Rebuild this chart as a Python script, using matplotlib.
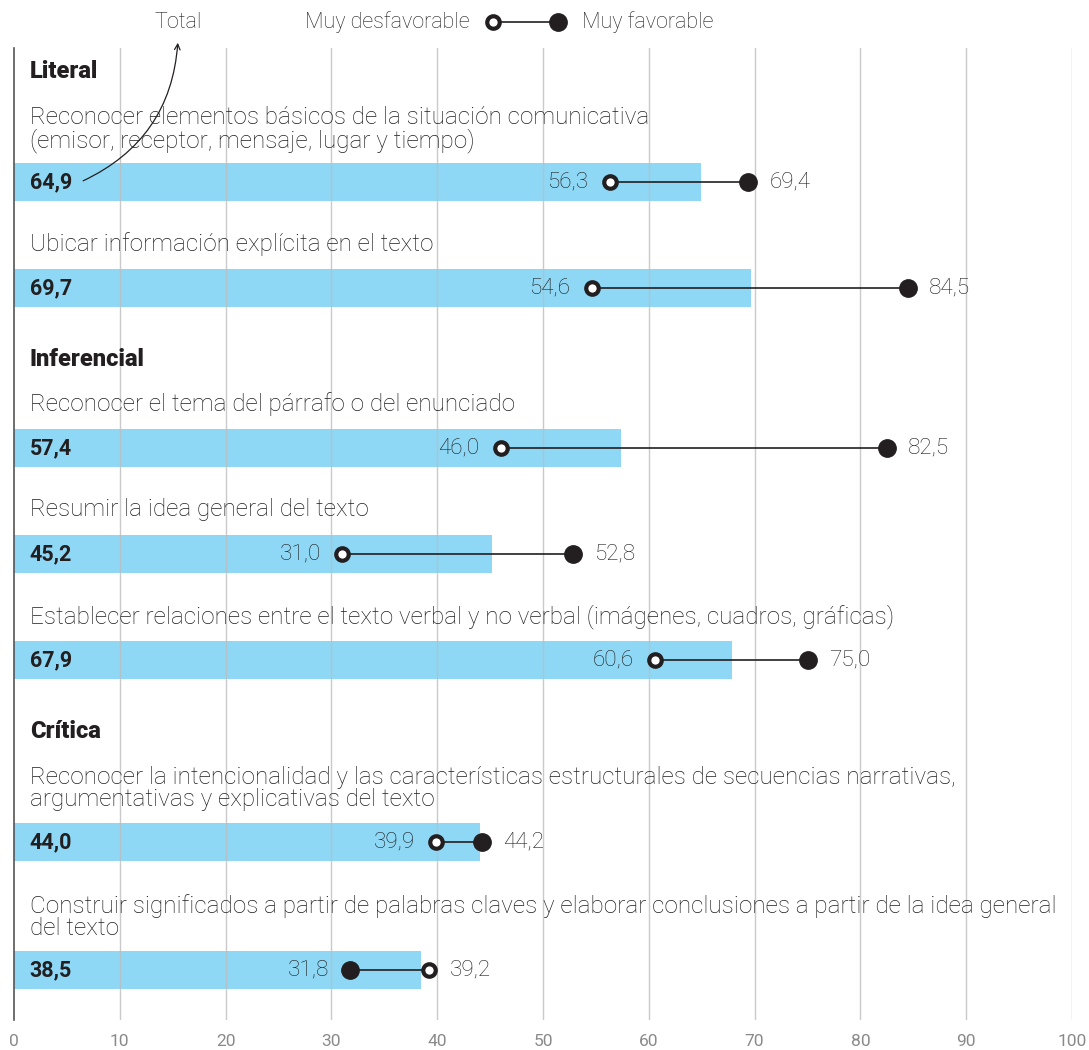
import numpy as np
from matplotlib import pyplot as plt

plt.rcParams['font.family'] = ['Roboto', 'DejaVu Sans']

groups = ["Literal", "Inferencial", "Crítica"]
group_of = [0, 0, 1, 1, 1, 2, 2]
labels = [
    "Reconocer elementos básicos de la situación comunicativa\n(emisor, receptor, mensaje, lugar y tiempo)",
    "Ubicar información explícita en el texto",
    "Reconocer el tema del párrafo o del enunciado",
    "Resumir la idea general del texto",
    "Establecer relaciones entre el texto verbal y no verbal (imágenes, cuadros, gráficas)",
    "Reconocer la intencionalidad y las características estructurales de secuencias narrativas,\nargumentativas y explicativas del texto",
    "Construir significados a partir de palabras claves y elaborar conclusiones a partir de la idea general\ndel texto",
]
total = [64.9, 69.7, 57.4, 45.2, 67.9, 44.0, 38.5]
desfav = [56.3, 54.6, 46.0, 31.0, 60.6, 39.9, 39.2]
fav = [69.4, 84.5, 82.5, 52.8, 75.0, 44.2, 31.8]
ticks = [0, 10, 20, 30, 40, 50, 60, 70, 80, 90, 100]

def fmt(v):
    return f"{v:.1f}".replace(".", ",")

bar_color = "#8ed8f6"
dark = "#231f20"
text_c = "#1e1e1e"

W, H = 1089, 1050
fig = plt.figure(figsize=(W/100, H/100), dpi=100)
top, bottom = 48, 1020
ax = fig.add_axes([14/W, 1 - bottom/H, (1072-14)/W, (bottom-top)/H])
ax.set_xlim(0, 100)
ax.set_ylim(bottom, top)  # y in pixel-like units, downward

# vertical layout computed with a cursor
y = 70
prev_group = None
bar_y = []
label_y = []
header_y = []
for i, lab in enumerate(labels):
    if group_of[i] != prev_group:
        if prev_group is not None:
            y += 70
        header_y.append(y)
        y += 46
        prev_group = group_of[i]
    else:
        y += 62
    label_y.append(y)
    nlines = lab.count("\n") + 1
    y += 44 if nlines == 1 else 66
    bar_y.append(y)

for g, hy in zip(groups, header_y):
    ax.text(1.5, hy + 2, g, fontsize=17, fontweight="heavy", color=dark, va="center", ha="left")

ax.barh(bar_y, total, height=38, color=bar_color, zorder=1)
for x in ticks[1:]:
    ax.axvline(x, color="#bdbdbd", lw=1, alpha=0.8, zorder=2)

for i in range(len(labels)):
    nlines = labels[i].count("\n") + 1
    off = 12 if nlines == 1 else 10
    ax.text(1.5, label_y[i] - off, labels[i], fontsize=17.5, fontweight="light", color=text_c,
            va="top", ha="left", linespacing=0.97)
    ax.text(1.5, bar_y[i], fmt(total[i]), fontsize=15.5, fontweight="bold", color=dark,
            va="center", ha="left", zorder=5)
    lo, hi = min(desfav[i], fav[i]), max(desfav[i], fav[i])
    ax.plot([desfav[i], fav[i]], [bar_y[i]] * 2, color=dark, lw=1.2, zorder=3)
    ax.plot(fav[i], bar_y[i], "o", ms=12.5, color=dark, zorder=4)
    ax.plot(desfav[i], bar_y[i], "o", ms=9, mfc="white", mec=dark, mew=3, zorder=4)
    ax.text(lo - 2.0, bar_y[i], fmt(lo), fontsize=16.2, fontweight="light", color=text_c,
            va="center", ha="right", zorder=5)
    ax.text(hi + 2.0, bar_y[i], fmt(hi), fontsize=16.2, fontweight="light", color=text_c,
            va="center", ha="left", zorder=5)

# legend at top
ax.text(15.5, 22, "Total", fontsize=15.5, fontweight="light", color=text_c, ha="center", va="center")
ax.annotate("", xy=(15.5, 40), xytext=(6.3, bar_y[0]),
            arrowprops=dict(arrowstyle="->", color=dark, lw=0.9,
                            connectionstyle="arc3,rad=0.3"), annotation_clip=False)
ax.text(43.1, 22, "Muy desfavorable", fontsize=15.5, fontweight="light", color=text_c, ha="right", va="center")
ax.plot([45.3, 51.4], [22, 22], color=dark, lw=1.2, clip_on=False)
ax.plot(51.4, 22, "o", ms=12.5, color=dark, clip_on=False)
ax.plot(45.3, 22, "o", ms=9, mfc="white", mec=dark, mew=3, clip_on=False)
ax.text(53.7, 22, "Muy favorable", fontsize=15.5, fontweight="light", color=text_c, ha="left", va="center")

ax.set_xticks(ticks)
ax.set_xticklabels([str(t) for t in ticks])
ax.tick_params(axis="x", length=0, labelsize=12.5, labelcolor="#8a8a8a", pad=10)
ax.set_yticks([])
for s in ["top", "right", "bottom"]:
    ax.spines[s].set_visible(False)
ax.spines["left"].set_color("#555555")
ax.spines["left"].set_linewidth(1.2)

fig.savefig("out.png", dpi=100)
